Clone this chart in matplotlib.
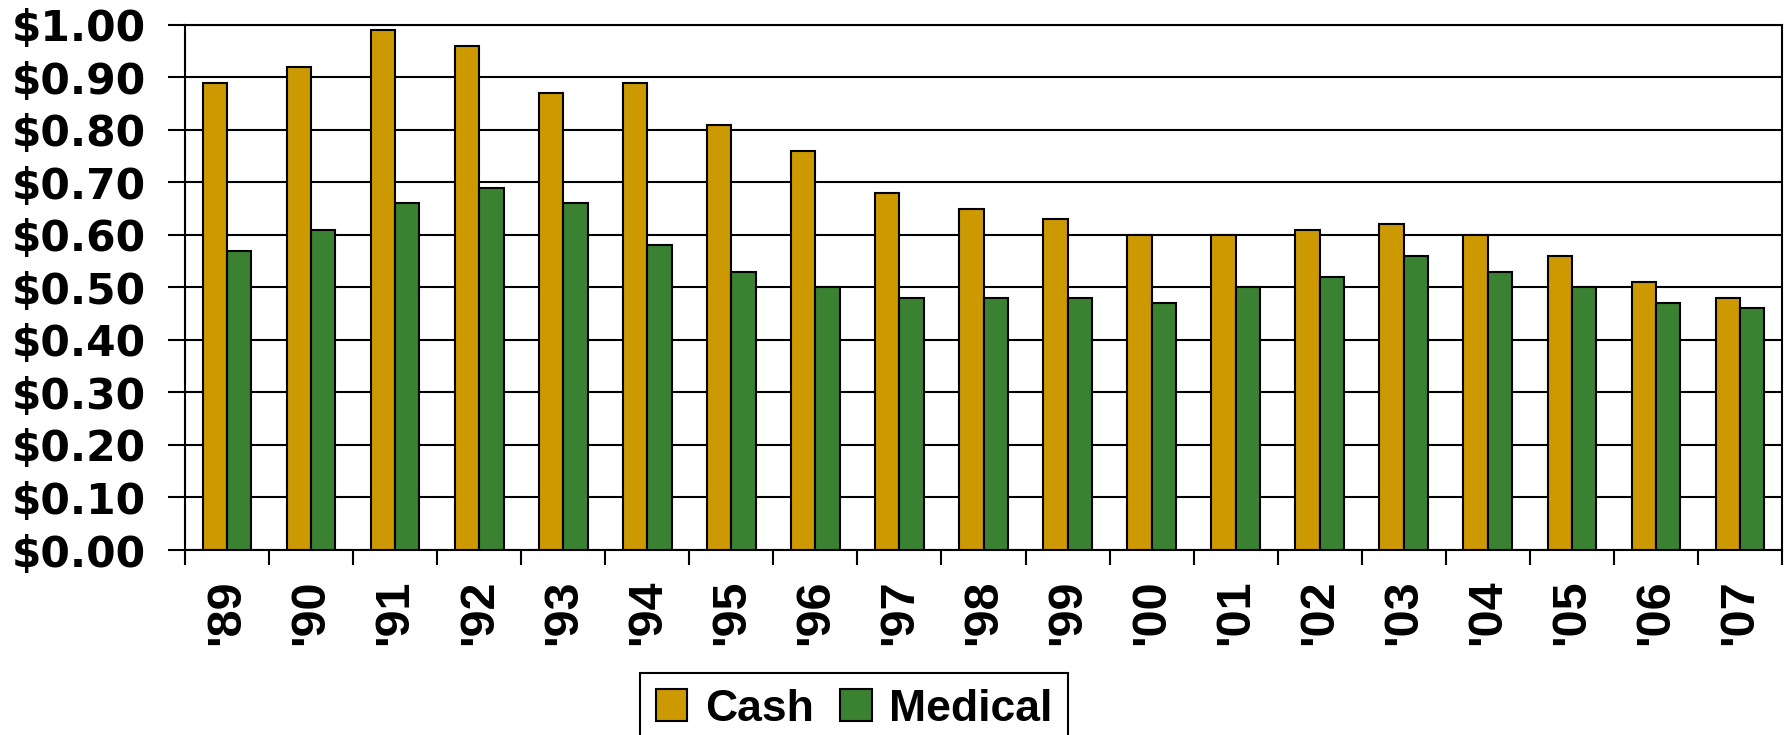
import numpy as np
import matplotlib.pyplot as plt

years = ["'89", "'90", "'91", "'92", "'93", "'94", "'95", "'96", "'97", "'98",
         "'99", "'00", "'01", "'02", "'03", "'04", "'05", "'06", "'07"]
cash = [0.89, 0.92, 0.99, 0.96, 0.87, 0.89, 0.81, 0.76, 0.68, 0.65,
        0.63, 0.60, 0.60, 0.61, 0.62, 0.60, 0.56, 0.51, 0.48]
medical = [0.57, 0.61, 0.66, 0.69, 0.66, 0.58, 0.53, 0.50, 0.48, 0.48,
           0.48, 0.47, 0.50, 0.52, 0.56, 0.53, 0.50, 0.47, 0.46]
yticks = np.arange(0, 1.01, 0.1)

CASH_COL = '#CC9900'
MED_COL = '#3A8131'

fig = plt.figure(figsize=(17.89, 7.35), dpi=100)
ax = fig.add_axes([0.1034, 0.2517, 0.8927, 0.7143])

x = np.arange(len(years))
w = 0.29
ax.bar(x - w / 2, cash, w, color=CASH_COL, edgecolor='black', linewidth=1.5,
       label='Cash', zorder=3)
ax.bar(x + w / 2, medical, w, color=MED_COL, edgecolor='black', linewidth=1.5,
       label='Medical', zorder=3)

ax.set_xlim(-0.5, len(years) - 0.5)
ax.set_ylim(0, 1.0)

# y axis
ax.set_yticks(yticks)
ax.set_yticklabels(['$%.2f' % v for v in yticks], fontfamily='DejaVu Sans',
                   fontweight='bold', fontsize=30.5)
ax.tick_params(axis='y', direction='out', length=12, width=1.5, pad=16)
ax.yaxis.grid(True, color='black', linewidth=1.5, zorder=0)

# x axis: ticks between groups, labels at centres
ax.set_xticks(np.arange(-0.5, len(years), 1.0))
ax.set_xticklabels([])
ax.tick_params(axis='x', which='major', direction='out', length=11, width=1.5)
ax.set_xticks(x, minor=True)
ax.set_xticklabels(years, minor=True, rotation=90, fontfamily='Liberation Sans',
                   fontweight='bold', fontsize=35, va='top', ha='center')
ax.tick_params(axis='x', which='minor', length=0, pad=21)

for s in ax.spines.values():
    s.set_linewidth(1.5)
    s.set_color('black')

leg = ax.legend(loc='upper left', bbox_to_anchor=(0.358, 0.0844),
                bbox_transform=fig.transFigure, ncol=2, frameon=True,
                fancybox=False, edgecolor='black', framealpha=1,
                prop={'family': 'Liberation Sans', 'weight': 'bold', 'size': 32},
                handlelength=0.7, handleheight=0.7, handletextpad=0.4,
                columnspacing=0.6, borderpad=0.35, borderaxespad=0)
leg.get_frame().set_linewidth(1.5)

fig.savefig('out.png', dpi=100)
